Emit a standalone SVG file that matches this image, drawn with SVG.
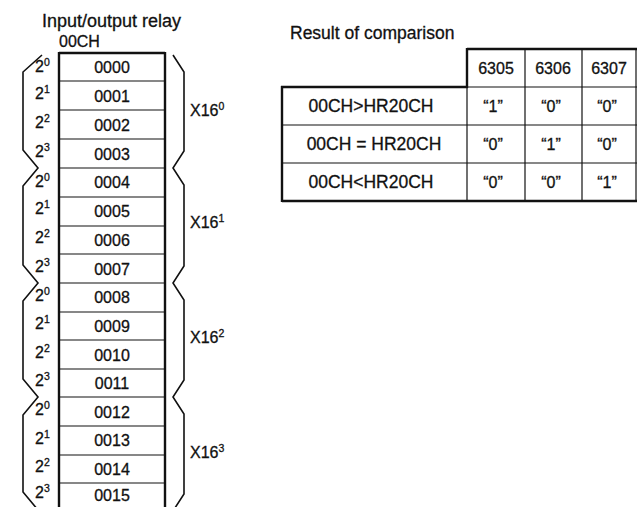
<svg xmlns="http://www.w3.org/2000/svg" width="637" height="507" viewBox="0 0 637 507">
<style>
text{font-family:"Liberation Sans",Arial,sans-serif;font-size:16px;fill:#111;stroke:#111;stroke-width:0.3}
.c{text-anchor:middle}
.sup{font-size:10.5px}
.big{font-size:18px}
.lab{font-size:17.5px}
.thin{stroke:#111;stroke-width:1.2;fill:none}
.thick{stroke:#111;stroke-width:2.4;fill:none}
.br{stroke:#111;stroke-width:1.6;fill:none;stroke-linejoin:miter}
</style>
<rect width="637" height="507" fill="#fff"/>
<g id="relay-title">
<text class="big" x="42" y="27">Input/output relay</text>
<text x="59" y="47">00CH</text>
</g>
<g id="relay-box">
<line class="thick" x1="59" y1="52" x2="59" y2="507"/>
<line class="thick" x1="165" y1="52" x2="165" y2="507"/>
<line class="thick" x1="59" y1="53" x2="165" y2="53"/>
<g class="thin">
<line x1="59" y1="81" x2="165" y2="81"/><line x1="59" y1="110" x2="165" y2="110"/><line x1="59" y1="139" x2="165" y2="139"/>
<line x1="59" y1="168" x2="165" y2="168"/><line x1="59" y1="197" x2="165" y2="197"/><line x1="59" y1="226" x2="165" y2="226"/>
<line x1="59" y1="254" x2="165" y2="254"/><line x1="59" y1="283" x2="165" y2="283"/><line x1="59" y1="312" x2="165" y2="312"/>
<line x1="59" y1="340" x2="165" y2="340"/><line x1="59" y1="369" x2="165" y2="369"/><line x1="59" y1="397" x2="165" y2="397"/>
<line x1="59" y1="426" x2="165" y2="426"/><line x1="59" y1="455" x2="165" y2="455"/><line x1="59" y1="483" x2="165" y2="483"/>
</g>
<g class="c">
<text x="112" y="73">0000</text><text x="112" y="102">0001</text><text x="112" y="131">0002</text><text x="112" y="160">0003</text>
<text x="112" y="188">0004</text><text x="112" y="217">0005</text><text x="112" y="246">0006</text><text x="112" y="275">0007</text>
<text x="112" y="303">0008</text><text x="112" y="332">0009</text><text x="112" y="361">0010</text><text x="112" y="389">0011</text>
<text x="112" y="418">0012</text><text x="112" y="446">0013</text><text x="112" y="475">0014</text><text x="112" y="501">0015</text>
</g>
</g>
<g id="bit-labels">
<text x="35" y="72">2<tspan class="sup" dy="-6">0</tspan></text>
<text x="35" y="99">2<tspan class="sup" dy="-6">1</tspan></text>
<text x="35" y="128">2<tspan class="sup" dy="-6">2</tspan></text>
<text x="35" y="157">2<tspan class="sup" dy="-6">3</tspan></text>
<text x="35" y="187">2<tspan class="sup" dy="-6">0</tspan></text>
<text x="35" y="214">2<tspan class="sup" dy="-6">1</tspan></text>
<text x="35" y="243">2<tspan class="sup" dy="-6">2</tspan></text>
<text x="35" y="272">2<tspan class="sup" dy="-6">3</tspan></text>
<text x="35" y="301">2<tspan class="sup" dy="-6">0</tspan></text>
<text x="35" y="329">2<tspan class="sup" dy="-6">1</tspan></text>
<text x="35" y="358">2<tspan class="sup" dy="-6">2</tspan></text>
<text x="35" y="386">2<tspan class="sup" dy="-6">3</tspan></text>
<text x="35" y="415">2<tspan class="sup" dy="-6">0</tspan></text>
<text x="35" y="444">2<tspan class="sup" dy="-6">1</tspan></text>
<text x="35" y="472">2<tspan class="sup" dy="-6">2</tspan></text>
<text x="35" y="498">2<tspan class="sup" dy="-6">3</tspan></text>
</g>
<g id="left-brackets">
<path class="br" d="M42 55 L23 72 L23 150 L38 168 L23 186 L23 265 L38 283 L23 301 L23 379 L38 397 L23 415 L23 492 L38 510"/>
</g>
<g id="right-brackets">
<path class="br" d="M173 55 L184 72 L184 151 L173 168 L184 185 L184 266 L173 283 L184 300 L184 380 L173 397 L184 414 L184 494 L173 511"/>
<text x="190" y="116">X16<tspan class="sup" dy="-6">0</tspan></text>
<text x="190" y="228">X16<tspan class="sup" dy="-6">1</tspan></text>
<text x="190" y="343">X16<tspan class="sup" dy="-6">2</tspan></text>
<text x="190" y="458">X16<tspan class="sup" dy="-6">3</tspan></text>
</g>
<g id="comparison-table">
<text class="lab" x="290" y="39">Result of comparison</text>
<line class="thick" x1="467" y1="49" x2="637" y2="49"/>
<line class="thick" x1="467" y1="48" x2="467" y2="88"/>
<line class="thick" x1="281" y1="87" x2="468" y2="87"/>
<line class="thin" x1="468" y1="87" x2="637" y2="87"/>
<line class="thick" x1="282" y1="86" x2="282" y2="202"/>
<line class="thin" x1="525" y1="49" x2="525" y2="202"/>
<line class="thin" x1="582" y1="49" x2="582" y2="202"/>
<line class="thin" x1="467" y1="87" x2="467" y2="202"/>
<line class="thin" x1="636" y1="49" x2="636" y2="202"/>
<line class="thin" x1="282" y1="125" x2="637" y2="125"/>
<line class="thin" x1="282" y1="163" x2="637" y2="163"/>
<line class="thick" x1="282" y1="201" x2="637" y2="201"/>
<g class="c">
<text x="496" y="74">6305</text><text x="553" y="74">6306</text><text x="609" y="74">6307</text>
<text x="493" y="112">“1”</text><text x="551" y="112">“0”</text><text x="607" y="112">“0”</text>
<text x="493" y="150">“0”</text><text x="551" y="150">“1”</text><text x="607" y="150">“0”</text>
<text x="493" y="188">“0”</text><text x="551" y="188">“0”</text><text x="607" y="188">“1”</text>
<text class="lab" x="371" y="112">00CH&gt;HR20CH</text>
<text class="lab" x="374" y="150">00CH = HR20CH</text>
<text class="lab" x="371" y="188">00CH&lt;HR20CH</text>
</g>
</g>
</svg>
